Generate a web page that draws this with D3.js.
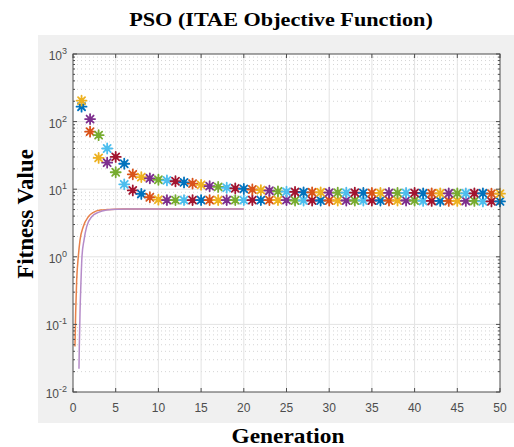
<!DOCTYPE html>
<html>
<head>
<meta charset="utf-8">
<script src="https://cdn.jsdelivr.net/npm/d3@7"></script>
<style>
  body { margin: 0; background: white; }
  .tick-label { font-family: Arial, "Liberation Sans", sans-serif; font-size: 12px; fill: #4d4d4d; }
  .big-label { font-family: "Times New Roman", "Liberation Serif", serif; font-weight: bold; fill: black; }
</style>
</head>
<body>
<svg id="chart" width="514" height="447"></svg>
<script>
// generation index 1..50 for the two star rows
const generations = d3.range(1, 51);

// upper star row
const upperValues = [
    204, 109, 63, 40, 30, 23.8, 16.6, 15.1, 14.5, 13.8,
    13.5, 13.1, 12.6, 12.1, 11.6, 11.1, 10.8, 10.5, 10.3, 10.1,
    9.9, 9.7, 9.5, 9.3, 9.2, 9.1, 9.0, 9.0, 9.0, 8.9,
    8.9, 8.9, 8.9, 8.8, 8.8, 8.8, 8.8, 8.8, 8.8, 8.8,
    8.7, 8.7, 8.7, 8.7, 8.7, 8.7, 8.7, 8.7, 8.6, 8.6
];
// lower star row
const lowerValues = [
    166, 71, 29, 24.7, 17.8, 11.8, 9.6, 8.5, 7.6, 7.0,
    6.9, 6.9, 6.9, 6.9, 6.9, 6.9, 6.9, 6.9, 6.9, 6.9,
    6.9, 6.9, 6.9, 6.9, 6.9, 6.8, 6.8, 6.8, 6.8, 6.8,
    6.8, 6.8, 6.8, 6.8, 6.8, 6.8, 6.8, 6.8, 6.8, 6.8,
    6.7, 6.7, 6.7, 6.7, 6.7, 6.7, 6.7, 6.6, 6.6, 6.6
];

// the two rising curves
const orangeCurveX = [0.23, 0.31, 0.43, 0.62, 0.82, 1.2, 1.8, 2.4, 3.2, 4.0, 4.9, 6, 8, 12, 16, 20];
const orangeCurveY = [0.047, 0.146, 0.45, 1.0, 1.77, 2.79, 3.92, 4.55, 4.92, 5.0, 5.05, 5.08, 5.1, 5.1, 5.1, 5.1];
const purpleCurveX = [0.70, 0.74, 0.82, 0.94, 1.05, 1.29, 1.6, 2.19, 2.97, 3.95, 5.2, 7, 10, 14, 20];
const purpleCurveY = [0.022, 0.047, 0.146, 0.45, 1.0, 1.77, 2.79, 3.92, 4.55, 4.92, 5.05, 5.08, 5.1, 5.1, 5.1];

const xTicks = d3.range(0, 51, 5);
const yTicks = [0.01, 0.1, 1, 10, 100, 1000];
const yExponents = ["-2", "-1", "0", "1", "2", "3"];

// matlab default colour order
const colorOrder = ["#0072BD", "#D95319", "#EDB120", "#7E2F8E", "#77AC30", "#4DBEEE", "#A2142F"];

const TITLE_LABEL = "PSO (ITAE Objective Function)";
const X_LABEL = "Generation";
const Y_LABEL = "Fitness Value";

// Layout
// ----------------------------------------
const plot = { left: 73, right: 500, top: 54, bottom: 392 };
const svg = d3.select("#chart");

svg.append("rect")
    .attr("x", 38).attr("y", 35)
    .attr("width", 476).attr("height", 388)
    .attr("fill", "#f0f0f0");

svg.append("rect")
    .attr("x", plot.left).attr("y", plot.top)
    .attr("width", plot.right - plot.left)
    .attr("height", plot.bottom - plot.top)
    .attr("fill", "white");

const x = d3.scaleLinear().domain([0, 50]).range([plot.left, plot.right]);
const y = d3.scaleLog().domain([0.01, 1000]).range([plot.bottom, plot.top]);

// minor log values 2..9 per decade
const yMinor = [];
for (let e = -2; e < 3; e++)
    for (let m = 2; m <= 9; m++) yMinor.push(m * Math.pow(10, e));

// Grid
// ----------------------------------------
const grid = svg.append("g");
grid.selectAll(".minor")
    .data(yMinor)
    .join("line")
    .attr("x1", plot.left).attr("x2", plot.right)
    .attr("y1", d => y(d)).attr("y2", d => y(d))
    .attr("stroke", "#d4d4d4")
    .attr("stroke-dasharray", "1,3");
grid.selectAll(".xmajor")
    .data(xTicks.slice(1, -1))
    .join("line")
    .attr("x1", d => x(d)).attr("x2", d => x(d))
    .attr("y1", plot.top).attr("y2", plot.bottom)
    .attr("stroke", "#e3e3e3");
grid.selectAll(".ymajor")
    .data(yTicks.slice(1, -1))
    .join("line")
    .attr("x1", plot.left).attr("x2", plot.right)
    .attr("y1", d => y(d)).attr("y2", d => y(d))
    .attr("stroke", "#e3e3e3");

// Curves
// ----------------------------------------
const line = d3.line()
    .x(d => x(d[0]))
    .y(d => y(d[1]))
    .curve(d3.curveMonotoneX);

svg.append("path")
    .datum(d3.zip(orangeCurveX, orangeCurveY))
    .attr("d", line)
    .attr("fill", "none")
    .attr("stroke", "#E8814A")
    .attr("stroke-width", 1.5);
svg.append("path")
    .datum(d3.zip(purpleCurveX, purpleCurveY))
    .attr("d", line)
    .attr("fill", "none")
    .attr("stroke", "#B58BC8")
    .attr("stroke-width", 1.5);

// Star markers
// ----------------------------------------
function star(r) {
    let p = "";
    for (let k = 0; k < 4; k++) {
        const a = k * Math.PI / 4;
        const dx = r * Math.cos(a), dy = r * Math.sin(a);
        p += `M${-dx},${-dy}L${dx},${dy}`;
    }
    return p;
}

const points = [];
generations.forEach((g, i) => {
    points.push({ g: g, v: lowerValues[i], c: colorOrder[(g - 1) % 7] });
    points.push({ g: g, v: upperValues[i], c: colorOrder[(g + 1) % 7] });
});

const marks = svg.append("g")
    .selectAll("g")
    .data(points)
    .join("g")
    .attr("transform", d => `translate(${x(d.g)},${y(d.v)})`);
marks.append("circle")
    .attr("r", 2.4)
    .attr("fill", d => d.c);
marks.append("path")
    .attr("d", star(5))
    .attr("stroke", d => d.c)
    .attr("stroke-width", 1.8)
    .attr("stroke-linecap", "round");

// Axes box and ticks
// ----------------------------------------
const axisColor = "#4d4d4d";
svg.append("rect")
    .attr("x", plot.left).attr("y", plot.top)
    .attr("width", plot.right - plot.left)
    .attr("height", plot.bottom - plot.top)
    .attr("fill", "none")
    .attr("stroke", axisColor);

const ticks = svg.append("g").attr("stroke", axisColor);
xTicks.forEach(t => {
    ticks.append("line").attr("x1", x(t)).attr("x2", x(t))
        .attr("y1", plot.bottom).attr("y2", plot.bottom - 4);
    ticks.append("line").attr("x1", x(t)).attr("x2", x(t))
        .attr("y1", plot.top).attr("y2", plot.top + 4);
});
yTicks.forEach(t => {
    ticks.append("line").attr("y1", y(t)).attr("y2", y(t))
        .attr("x1", plot.left).attr("x2", plot.left + 4);
    ticks.append("line").attr("y1", y(t)).attr("y2", y(t))
        .attr("x1", plot.right).attr("x2", plot.right - 4);
});
yMinor.forEach(t => {
    ticks.append("line").attr("y1", y(t)).attr("y2", y(t))
        .attr("x1", plot.left).attr("x2", plot.left + 2);
    ticks.append("line").attr("y1", y(t)).attr("y2", y(t))
        .attr("x1", plot.right).attr("x2", plot.right - 2);
});

// tick labels
svg.append("g")
    .selectAll("text")
    .data(xTicks)
    .join("text")
    .attr("class", "tick-label")
    .attr("x", d => x(d))
    .attr("y", plot.bottom + 20)
    .attr("text-anchor", "middle")
    .text(d => d);

const yLab = svg.append("g")
    .selectAll("text")
    .data(yTicks)
    .join("text")
    .attr("class", "tick-label")
    .attr("x", plot.left - 6)
    .attr("y", d => y(d) + 6)
    .attr("text-anchor", "end");
yLab.append("tspan").text("10");
yLab.append("tspan")
    .attr("dy", -6)
    .attr("font-size", "9px")
    .text((d, i) => yExponents[i]);

// Titles (the reference is a little stretched sideways)
// ----------------------------------------
svg.append("text")
    .attr("class", "big-label")
    .attr("transform", "translate(281,26) scale(1.17,1)")
    .attr("text-anchor", "middle")
    .attr("font-size", "19px")
    .text(TITLE_LABEL);
svg.append("text")
    .attr("class", "big-label")
    .attr("transform", "translate(288,443) scale(1.17,1)")
    .attr("text-anchor", "middle")
    .attr("font-size", "20px")
    .text(X_LABEL);
svg.append("text")
    .attr("class", "big-label")
    .attr("transform", "translate(33,214) rotate(-90)")
    .attr("text-anchor", "middle")
    .attr("font-size", "23px")
    .text(Y_LABEL);
</script>
</body>
</html>
